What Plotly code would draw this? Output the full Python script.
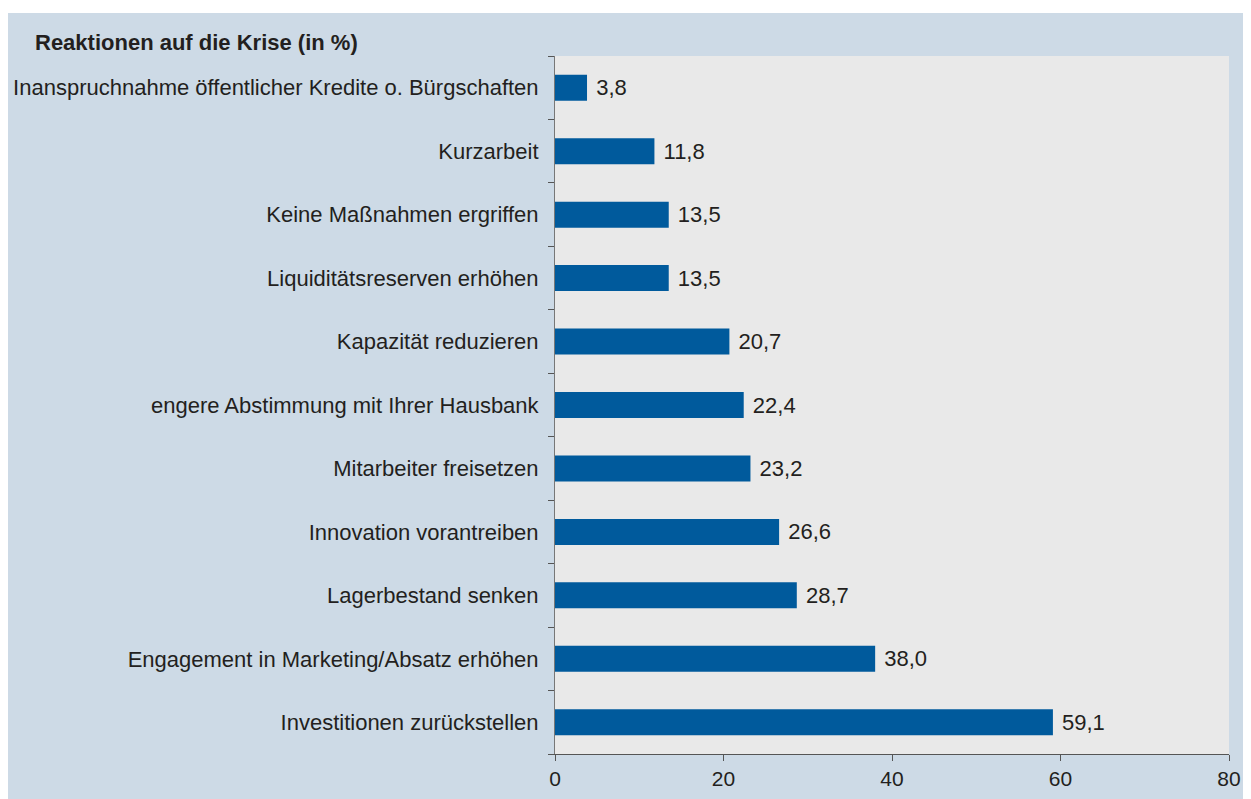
import plotly.graph_objects as go

categories = [
    "Investitionen zurückstellen",
    "Engagement in Marketing/Absatz erhöhen",
    "Lagerbestand senken",
    "Innovation vorantreiben",
    "Mitarbeiter freisetzen",
    "engere Abstimmung mit Ihrer Hausbank",
    "Kapazität reduzieren",
    "Liquiditätsreserven erhöhen",
    "Keine Maßnahmen ergriffen",
    "Kurzarbeit",
    "Inanspruchnahme öffentlicher Kredite o. Bürgschaften",
]
values = [59.1, 38.0, 28.7, 26.6, 23.2, 22.4, 20.7, 13.5, 13.5, 11.8, 3.8]
x_ticks = [0, 20, 40, 60, 80]
title_text = "Reaktionen auf die Krise (in %)"

# page body has an 8px margin; figure sized so its right/bottom edges meet the window
W, H = 1241, 791
L, R, T, B = 547, 20, 48, 45
pw = W - L - R
ph = H - T - B
FONT = "Liberation Sans, Arial"
TXT = "#231f20"

fig = go.Figure(go.Bar(
    x=values, y=categories, orientation="h",
    marker=dict(color="#005a9c", line=dict(width=0)),
    width=0.41,
    texttemplate=" %{x:.1f}", textposition="outside",
    textfont=dict(family=FONT, size=22, color=TXT),
    cliponaxis=False,
    hoverinfo="skip",
))

fig.update_layout(
    width=W, height=H, autosize=False,
    margin=dict(l=L, r=R, t=T, b=B, autoexpand=False),
    paper_bgcolor="#cddae6",
    plot_bgcolor="#e9e9e9",
    separators=",.",
    showlegend=False,
    font=dict(family=FONT, size=22, color=TXT),
    title=dict(text="<b>" + title_text + "</b>", x=27 / W, xanchor="left",
               xref="container", y=1 - 34 / H, yanchor="middle", yref="container",
               font=dict(family=FONT, size=22, color=TXT)),
    xaxis=dict(range=[0, 80], tickvals=x_ticks, ticks="outside", ticklen=6,
               tickcolor="#555555", showgrid=False, zeroline=False, automargin=False,
               showline=True, linecolor="#555555", linewidth=1,
               tickfont=dict(family=FONT, size=21, color=TXT)),
    yaxis=dict(categoryorder="array", categoryarray=categories,
               ticks="outside", ticklen=6, tickcolor="#555555", automargin=False,
               tickson="boundaries", showgrid=False, zeroline=False,
               showline=True, linecolor="#777777", linewidth=1,
               ticklabelstandoff=11,
               tickfont=dict(family=FONT, size=22, color=TXT)),
    shapes=[
        dict(type="rect", xref="paper", yref="paper",
             x0=-L / pw, x1=(W - L) / pw,
             y0=(H - B - 5) / ph, y1=(H - B) / ph, fillcolor="white",
             line=dict(width=0), layer="below"),
    ],
)

fig.write_html("out.html")
